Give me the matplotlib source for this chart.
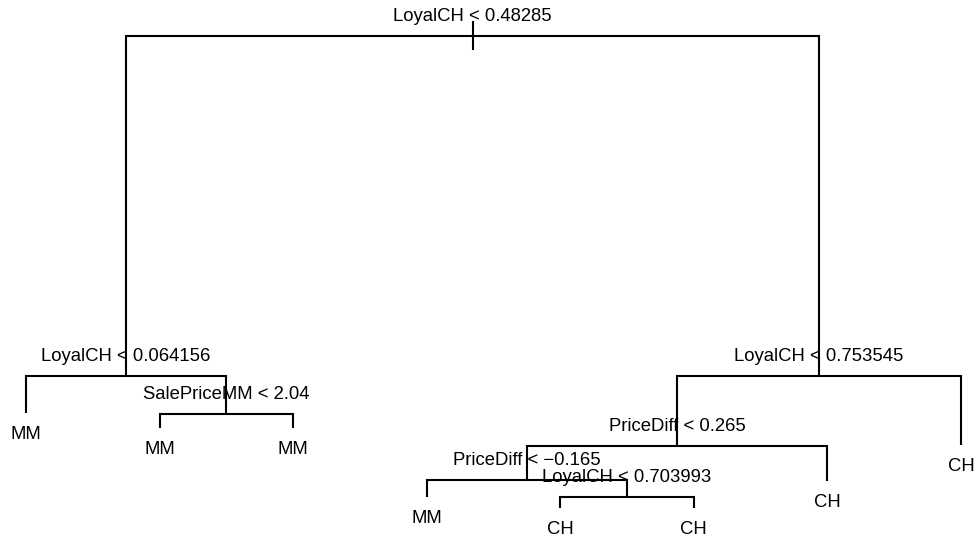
import matplotlib
matplotlib.use("Agg")
import matplotlib.pyplot as plt

# Classification tree for Purchase (CH / MM), nodes in R numbering:
# children of node n are 2n and 2n+1.
node_id = [1, 2, 4, 5, 10, 11, 3, 6, 12, 24, 25, 50, 51, 13, 7]
node_label = [
    "LoyalCH < 0.48285",
    "LoyalCH < 0.064156",
    "MM",
    "SalePriceMM < 2.04",
    "MM",
    "MM",
    "LoyalCH < 0.753545",
    "PriceDiff < 0.265",
    "PriceDiff < \u22120.165",
    "MM",
    "LoyalCH < 0.703993",
    "CH",
    "CH",
    "CH",
    "CH",
]
# node deviance (vertical position of each node)
node_dev = [1062, 331, 252, 249, 219, 219, 331, 181, 108, 71, 71, 47, 47, 105, 183]

plt.rcParams["font.family"] = ["Liberation Sans", "DejaVu Sans"]

label = dict(zip(node_id, node_label))
dev = dict(zip(node_id, node_dev))
ids = set(node_id)


def is_leaf(n):
    return 2 * n not in ids


# leaves evenly spaced in depth-first order, internal nodes at child midpoints
xpos = {}
counter = [0]


def place(n):
    if is_leaf(n):
        counter[0] += 1
        xpos[n] = counter[0]
    else:
        place(2 * n)
        place(2 * n + 1)
        xpos[n] = (xpos[2 * n] + xpos[2 * n + 1]) / 2


place(1)

fig = plt.figure(figsize=(9.76, 5.37), dpi=100)
ax = fig.add_axes([0, 0, 1, 1])
ax.set_xlim(0.8054, 8.1123)
ax.set_ylim(-15.05, 1139.5)
ax.axis("off")

lw = 1.5
fs = 13.3
col = "black"

# short stem through the root
ax.plot([xpos[1], xpos[1]], [dev[1] + 32, dev[1] - 30], color=col, lw=lw,
        solid_capstyle="butt")

for n in node_id:
    if is_leaf(n):
        continue
    l, r = 2 * n, 2 * n + 1
    # horizontal bar and the two drops to the children
    ax.plot([xpos[l], xpos[l], xpos[r], xpos[r]],
            [dev[l], dev[n], dev[n], dev[r]],
            color=col, lw=lw, solid_joinstyle="miter", solid_capstyle="butt")

for n in node_id:
    if is_leaf(n):
        ax.annotate(label[n], (xpos[n], dev[n]), xytext=(0, -15.5),
                    textcoords="offset points", ha="center", va="center",
                    fontsize=fs, color=col)
    else:
        ax.annotate(label[n], (xpos[n], dev[n]), xytext=(0, 14),
                    textcoords="offset points", ha="center", va="center",
                    fontsize=fs, color=col)

fig.savefig("out.png", dpi=100, facecolor="white")
